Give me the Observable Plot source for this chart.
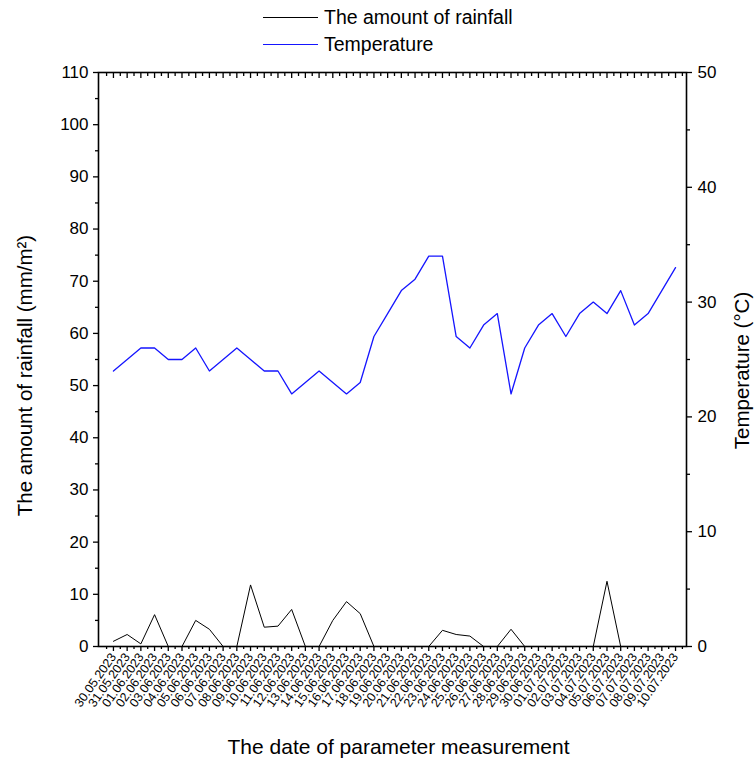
<!DOCTYPE html>
<html>
<head>
<meta charset="utf-8">
<script src="https://cdn.jsdelivr.net/npm/d3@7"></script>
<script src="https://cdn.jsdelivr.net/npm/@observablehq/plot@0.6"></script>
<style>
  body { margin: 0; background: #fff; font-family: "Liberation Sans", Arial, sans-serif; }
  #legend { height: 55px; position: relative; }
  .item { position: absolute; left: 263px; display: flex; align-items: center; font-size: 19.5px; color: #000; }
  .swatch { display: inline-block; width: 55px; height: 1.2px; background: #000; margin-right: 6px; }
</style>
</head>
<body>
<div id="legend">
  <div class="item" style="top:6px"><span class="swatch"></span><span>The amount of rainfall</span></div>
  <div class="item" style="top:33px"><span class="swatch" style="background:#1515ff;height:1.5px"></span><span>Temperature</span></div>
</div>
<div id="chart"></div>
<script>
const dates = [
  "30.05.2023","31.05.2023","01.06.2023","02.06.2023","03.06.2023","04.06.2023","05.06.2023",
  "06.06.2023","07.06.2023","08.06.2023","09.06.2023","10.06.2023","11.06.2023","12.06.2023",
  "13.06.2023","14.06.2023","15.06.2023","16.06.2023","17.06.2023","18.06.2023","19.06.2023",
  "20.06.2023","21.06.2023","22.06.2023","23.06.2023","24.06.2023","25.06.2023","26.06.2023",
  "27.06.2023","28.06.2023","29.06.2023","30.06.2023","01.07.2023","02.07.2023","03.07.2023",
  "04.07.2023","05.07.2023","06.07.2023","07.07.2023","08.07.2023","09.07.2023","10.07.2023"
];
const rainfall = [
  1.0, 2.3, 0.5, 6.1, 0, 0, 5.0, 3.3, 0, 0, 11.8, 3.7, 3.9, 7.1, 0, 0, 5.0, 8.6, 6.3, 0, 0,
  0, 0, 0, 3.1, 2.3, 2.0, 0, 0, 3.3, 0, 0, 0, 0, 0, 0, 12.5, 0, 0, 0, 0, 0
];
const temperature = [
  24, 25, 26, 26, 25, 25, 26, 24, 25, 26, 25, 24, 24, 22, 23, 24, 23, 22, 23, 27, 29,
  31, 32, 34, 34, 27, 26, 28, 29, 22, 26, 28, 29, 27, 29, 30, 29, 31, 28, 29, 31, 33
];
const rainTicks = [0, 10, 20, 30, 40, 50, 60, 70, 80, 90, 100, 110];
const tempTicks = [0, 10, 20, 30, 40, 50];
const rainMax = 110, tempMax = 50;
const k = rainMax / tempMax;

const rows = dates.map((d, i) => ({i, date: d, rain: rainfall[i], temp: temperature[i]}));
const idx = d3.range(dates.length);
const half = d3.range(-1, dates.length).map(i => i + 0.5);
const rainMinor = rainTicks.slice(0, -1).map(v => v + 5);
const tempMinor = tempTicks.slice(0, -1).map(v => v + 5);
const none = () => "";

const chart = Plot.plot({
  width: 756,
  height: 705,
  marginLeft: 98,
  marginRight: 70,
  marginTop: 17,
  marginBottom: 114,
  x: {type: "linear", domain: [-1.09, 41.8]},
  y: {domain: [0, rainMax]},
  style: {fontFamily: "'Liberation Sans', Arial, sans-serif", fontSize: "15px", color: "#000", background: "#fff"},
  marks: [
    Plot.line(rows, {x: "i", y: "rain", stroke: "#000", strokeWidth: 1}),
    Plot.line(rows, {x: "i", y: d => d.temp * k, stroke: "#1515ff", strokeWidth: 1.3}),
    Plot.frame({stroke: "#000", strokeWidth: 1.6}),
    // left axis
    Plot.axisY(rainTicks, {anchor: "left", tickSize: 5, tickPadding: 5, fontSize: 17, strokeWidth: 1.3, label: null}),
    Plot.axisY(rainMinor, {anchor: "left", tickSize: 3, tickFormat: none, strokeWidth: 1.3, label: null}),
    // right axis (temperature)
    Plot.axisY(tempTicks.map(t => t * k), {anchor: "right", tickSize: 5, tickPadding: 6, fontSize: 17, strokeWidth: 1.3, tickFormat: v => Math.round(v / k), label: null}),
    Plot.axisY(tempMinor.map(t => t * k), {anchor: "right", tickSize: 3, tickFormat: none, strokeWidth: 1.3, label: null}),
    // bottom axis
    Plot.axisX(idx, {anchor: "bottom", tickSize: 5, tickPadding: 3, strokeWidth: 1.3, tickFormat: i => dates[i], tickRotate: -55, textAnchor: "end", fontSize: 12.5, label: null}),
    Plot.axisX(half, {anchor: "bottom", tickSize: 3, strokeWidth: 1.3, tickFormat: none, label: null}),
    // top axis (inward ticks)
    Plot.axisX(idx, {anchor: "top", tickSize: 5, dy: 5, strokeWidth: 1.3, tickFormat: none, label: null}),
    Plot.axisX(half, {anchor: "top", tickSize: 3, dy: 3, strokeWidth: 1.3, tickFormat: none, label: null}),
    // titles
    Plot.text(["The amount of rainfall (mm/m²)"], {frameAnchor: "left", textAnchor: "middle", lineAnchor: "middle", rotate: -90, dx: -73, dy: 16, fontSize: 20.5, text: d => d}),
    Plot.text(["Temperature (°C)"], {frameAnchor: "right", textAnchor: "middle", lineAnchor: "middle", rotate: -90, dx: 56, dy: 11, fontSize: 20.5, text: d => d}),
    Plot.text(["The date of parameter measurement"], {frameAnchor: "bottom", textAnchor: "middle", lineAnchor: "middle", dy: 101, dx: 6, fontSize: 21, text: d => d})
  ]
});
document.getElementById("chart").appendChild(chart);
</script>
</body>
</html>
